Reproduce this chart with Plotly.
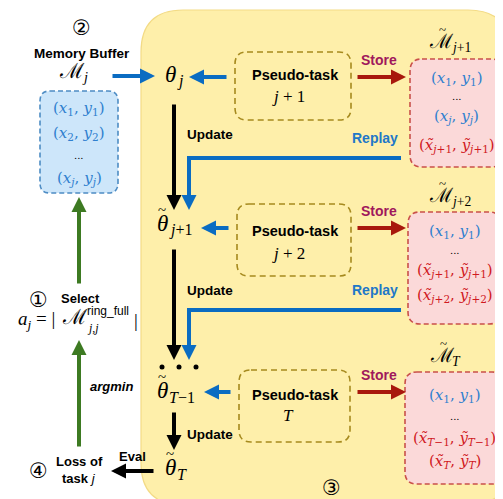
import plotly.graph_objects as go

W, H = 503, 499

# ---- diagram content ----
step_marks = ["②", "①", "④", "③"]
pseudo_task_ids = ["<i>j</i> + 1", "<i>j</i> + 2", "<i>T</i>"]
theta_subs = ["<i>j</i>", "<i>j</i>+1", "<i>T</i>−1", "<i>T</i>"]
theta_tilde = [False, True, True, True]
memory_subs = ["<i>j</i>+1", "<i>j</i>+2", "<i>T</i>"]
buffer_subs = ["1", "2", "<i>j</i>"]
seen_subs = [["1", "<i>j</i>"], ["1"], ["1"]]
pseudo_subs = [["<i>j</i>+1"], ["<i>j</i>+1", "<i>j</i>+2"], ["<i>T</i>−1", "<i>T</i>"]]

# ---- colours ----
YELLOW = "#FEEFAA"
BLUE = "#0A6CC2"
TUPLE_BLUE = "#2F80CF"
RED_ARROW = "#A8180C"
STORE = "#A0185C"
TUPLE_RED = "#D01A1E"
GREEN = "#3D7A22"
OLIVE = "#A68A1E"
SANS = "Liberation Sans, Arial"
SERIF = "DejaVu Serif"
MATH = "Liberation Serif"


def tup(sub, tilde=False):
    x = "x̃" if tilde else "x"
    y = "ỹ" if tilde else "y"
    return f"(<i>{x}</i><sub>{sub}</sub>, <i>{y}</i><sub>{sub}</sub>)"


def rrect(x0, y0, x1, y1, r):
    return (f"M{x0 + r},{y0} L{x1 - r},{y0} Q{x1},{y0} {x1},{y0 + r} "
            f"L{x1},{y1 - r} Q{x1},{y1} {x1 - r},{y1} L{x0 + r},{y1} "
            f"Q{x0},{y1} {x0},{y1 - r} L{x0},{y0 + r} Q{x0},{y0} {x0 + r},{y0} Z")


fig = go.Figure()


def box(x0, y0, x1, y1, r, fill, line, dash=None, width=1.6):
    fig.add_shape(type="path", path=rrect(x0, y0, x1, y1, r), fillcolor=fill,
                  line=dict(color=line, width=width, dash=dash), layer="below")


def text(x, y, s, size, color="black", family=SANS, anchor="center"):
    fig.add_annotation(x=x, y=y, text=s, showarrow=False, xanchor=anchor,
                       yanchor="middle", font=dict(size=size, color=color, family=family))


def arrow(x0, y0, x1, y1, color, width=4, size=0.75):
    fig.add_annotation(x=x1, y=y1, ax=x0, ay=y0, xref="x", yref="y", axref="x", ayref="y",
                       text="", showarrow=True, arrowhead=2, arrowsize=size,
                       arrowwidth=width, arrowcolor=color)


def script_m(cx, y, sub, size, tilde=False):
    # calligraphic M centred at cx, optional tilde and subscript
    text(cx, y, "ℳ", size, family="DejaVu Serif")
    if tilde:
        text(cx + 1, y - size * 0.6, "~", size * 0.65, family=MATH)
    text(cx + size * 0.4, y + size * 0.3, sub, size * 0.68, family=MATH, anchor="left")


# big yellow region
box(133, 2, 502, 497, 42, YELLOW, "#F3DB86", width=1.2)

# memory buffer (left)
box(32, 83, 110, 185, 10, "#CDE6FA", "#4D8CC4", dash="5px,3px")
text(73, 20, step_marks[0], 21, family="DejaVu Sans")
text(74, 45, "<b>Memory Buffer</b>", 13.5)
script_m(64, 63, "<i>j</i>", 21)
buf_y = [100, 125, 147, 170]
buf_lines = [tup(buffer_subs[0]), tup(buffer_subs[1]), "...", tup(buffer_subs[2])]
for yy, s in zip(buf_y, buf_lines):
    text(71, yy, s, 15 if s != "..." else 10, TUPLE_BLUE if s != "..." else "black", SERIF)
arrow(103, 68, 147, 68, BLUE)

# select / loss column
text(30, 292, step_marks[1], 21, family="DejaVu Sans")
text(72, 290, "<b>Select</b>", 13)
text(8, 312, "<i>a</i><sub><i>j</i></sub> = |", 19, family=MATH, anchor="left")
text(67, 309, "ℳ", 21, family="DejaVu Serif")
text(77, 303, "ring_full", 12, family=SANS, anchor="left")
text(77, 320, "<i>j</i>,<i>j</i>", 12, family=MATH, anchor="left")
text(128, 312, "|", 19, family=MATH)
arrow(71, 277, 71, 189, GREEN)
arrow(71, 440, 71, 332, GREEN)
text(103, 378, "<b><i>argmin</i></b>", 13)
text(30, 463, step_marks[2], 21, family="DejaVu Sans")
text(71, 453, "<b>Loss of</b>", 13)
text(71, 470, "<b>task</b> <i>j</i>", 13)
text(124, 448, "<b>Eval</b>", 13)
arrow(147, 463, 103, 463, "black")

# pseudo-task rows
pt_boxes = [(227, 44, 343, 112), (229, 196, 343, 268), (231, 362, 342, 434)]
pt_title_y = [67, 223, 387]
pt_id_y = [88, 245, 407]
row_y = [69, 220, 384]
to_theta = [(220, 181), (222, 193), (224, 196)]
for i in range(3):
    x0, y0, x1, y1 = pt_boxes[i]
    box(x0, y0, x1, y1, 12, "rgba(0,0,0,0)", OLIVE, dash="6px,4px")
    text(287, pt_title_y[i], "<b>Pseudo-task</b>", 14.5)
    text(280, pt_id_y[i], pseudo_task_ids[i], 17, family=MATH)
    arrow(to_theta[i][0], row_y[i], to_theta[i][1], row_y[i], BLUE)
    arrow(348, row_y[i], 398, row_y[i], RED_ARROW)
    text(371, row_y[i] - 17, "<b>Store</b>", 14, STORE)

# pseudo memory boxes
mem_boxes = [(402, 51, 495, 159), (400, 204, 493, 316), (397, 364, 496, 476)]
mem_title_pos = [(433, 33), (433, 187), (434, 347)]
mem_line_y = [[70, 88, 108, 137], [223, 242, 262, 287], [387, 408, 430, 453]]
for i in range(3):
    x0, y0, x1, y1 = mem_boxes[i]
    box(x0, y0, x1, y1, 12, "#FBD9D9", "#C9504A", dash="5px,3px")
    script_m(mem_title_pos[i][0], mem_title_pos[i][1], memory_subs[i], 20, tilde=True)
    lines = [(tup(seen_subs[i][0]), TUPLE_BLUE), ("...", "black")]
    lines += [(tup(s), TUPLE_BLUE) for s in seen_subs[i][1:]]
    lines += [(tup(s, True), TUPLE_RED) for s in pseudo_subs[i]]
    cx = (x0 + x1) / 2
    for yy, (s, c) in zip(mem_line_y[i], lines):
        text(cx, yy, s, 15 if s != "..." else 10, c, SERIF)

# theta column (x = left edge of the theta glyph)
theta_pos = [(155, 66), (147, 215), (147, 382), (155, 459)]
for (tx, ty), sub, tl in zip(theta_pos, theta_subs, theta_tilde):
    text(tx, ty, "<i>θ</i>", 23, family=MATH, anchor="left")
    if tl:
        text(tx + 7, ty - 13, "~", 15, family=MATH)
    text(tx + 12, ty + 7, sub, 16, family=MATH, anchor="left")
update_seg = [(95, 202, 126), (240, 352, 282), (403, 442, 426)]
for y0, y1, ty in update_seg:
    arrow(166, y0, 166, y1, "black")
    text(202, ty, "<b>Update</b>", 13.5)

# replay paths
for ly, tip in [(150, 202), (302, 352)]:
    fig.add_shape(type="path", path=f"M393,{ly} L181,{ly} L181,{ly + 20}",
                  line=dict(color=BLUE, width=4))
    arrow(181, ly + 15, 181, tip, BLUE)
    text(367, ly - 20, "<b>Replay</b>", 14, "#1F78C8")

# ellipsis dots between rows
fig.add_trace(go.Scatter(x=[154, 171, 188], y=[359, 359, 359], mode="markers",
                         marker=dict(size=5, color="black"), hoverinfo="skip"))

text(323, 480, step_marks[3], 21, family="DejaVu Sans")

fig.update_layout(
    width=W, height=H, margin=dict(l=0, r=0, t=0, b=0),
    paper_bgcolor="white", plot_bgcolor="white", showlegend=False,
    xaxis=dict(range=[0, W], visible=False, fixedrange=True),
    yaxis=dict(range=[H, 0], visible=False, fixedrange=True),
)
fig.write_html("out.html")
